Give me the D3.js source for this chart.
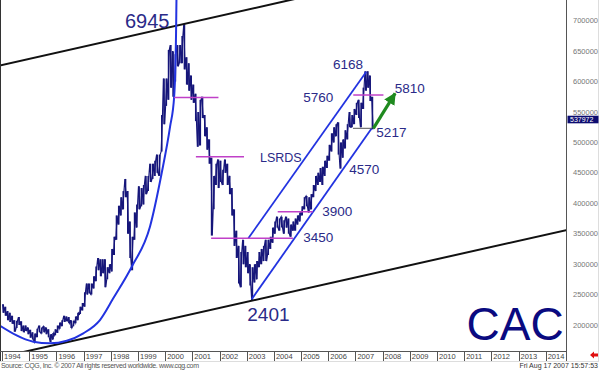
<!DOCTYPE html>
<html>
<head>
<meta charset="utf-8">
<script src="https://cdn.jsdelivr.net/npm/d3@7"></script>
<style>
  body { margin: 0; background: #fff; }
  svg { display: block; font-family: "Liberation Sans", Arial, sans-serif; }
</style>
</head>
<body>
<svg id="chart" width="600" height="370"></svg>
<script>
// monthly high / low of the CAC index, Jan 1994 .. Aug 2007 (index points)
const startYear = 1994;
const highs = [
  2340,2300,2230,2200,2150,2080,2070,2130,2060,1990,1990,1960,
  1920,1880,1860,1940,1990,1960,1980,1960,1930,1850,1870,1930,
  1990,2040,2080,2150,2140,2130,2080,2070,2140,2200,2300,2360,
  2540,2680,2680,2680,2800,2960,3100,3080,3080,3080,2950,3000,
  3250,3450,3800,3960,4100,4200,4400,4200,3700,3450,3850,3980,
  4280,4250,4300,4450,4450,4650,4650,4700,4800,4800,5450,6050,
  6050,6520,6600,6500,6450,6600,6600,6750,6945,6400,6300,6100,
  5950,5800,5500,5700,5750,5450,5250,5050,4750,4450,4650,4720,
  4700,4550,4720,4650,4450,4250,3900,3550,3300,3200,3400,3300,
  3200,3000,2950,3000,3050,3200,3250,3300,3400,3400,3450,3600,
  3700,3780,3750,3780,3720,3780,3750,3650,3700,3750,3800,3850,
  3950,4100,4120,4100,4150,4300,4450,4500,4580,4600,4700,4780,
  4960,5150,5250,5300,5330,5000,5050,5200,5300,5500,5450,5550,
  5650,5700,5650,5900,6168,6168,6100,5750
];
const lows = [
  2200,2150,2080,2050,2020,1890,1950,2000,1900,1880,1900,1850,
  1790,1760,1720,1800,1880,1860,1880,1850,1800,1720,1760,1830,
  1870,1940,1980,2050,2060,2030,1950,1980,2030,2080,2180,2240,
  2300,2500,2520,2500,2600,2720,2900,2800,2850,2620,2750,2850,
  2880,3150,3400,3650,3800,3900,4100,3500,3100,2900,3400,3600,
  3900,3950,3980,4150,4200,4350,4400,4450,4500,4450,4850,5300,
  5600,5700,5900,5750,6000,6250,6300,6300,6200,5950,5850,5700,
  5650,5350,4930,4950,5400,5100,4880,4650,3470,3900,4300,4250,
  4350,4300,4500,4300,4150,3800,3300,3100,2680,2620,3000,2950,
  2850,2650,2401,2700,2750,2950,3000,3050,3050,3150,3250,3350,
  3500,3600,3550,3600,3500,3600,3500,3450,3550,3550,3650,3700,
  3800,3900,3950,3850,3900,4100,4200,4300,4350,4300,4450,4580,
  4700,4850,5000,5100,4800,4570,4750,4900,5050,5250,5250,5300,
  5450,5400,5250,5550,5850,5900,5680,5217
];
const lastValue = 5379.72;

const yearTicks = d3.range(1994, 2015);
const valueTicks = [2000, 2500, 3000, 3500, 4000, 4500, 5000, 5500, 6000, 6500, 7000];

// hand drawn studies, [decimal year, index]
const bowlCurve = [[1993.92,1989],[1995.15,1726],[1995.76,1700],[1996.38,1742],[1996.99,1864],
  [1997.6,2082],[1998.09,2439],[1998.77,2958],[1999.44,3615],[1999.87,4493],[2000.18,5258],
  [2000.33,5751],[2000.40,6793],[2000.415,7340],[2000.42,7500]];
const blackUpper = [[1993.9,6262],[2005.0,7380]];
const blackLower = [[1994.5,1528],[2015.0,3583]];
const blueLower = [[2003.18,2422],[2007.6,5232]];
const blueUpper = [[2003.06,3425],[2007.40,6162]];
const levels = [
  {from: 2000.33, to: 2001.96, value: 5740},
  {from: 2001.13, to: 2002.90, value: 4765},
  {from: 2001.69, to: 2004.70, value: 3425},
  {from: 2004.14, to: 2005.43, value: 3862},
  {from: 2006.92, to: 2008.03, value: 5779}
];
const support = {from: 2006.91, to: 2007.61, value: 5232};
const target = [[2007.66,5232],[2008.46,5807]];
const notes = [
  {text: "6945", year: 1998.52, value: 6880, size: 20},
  {text: "6168", year: 2006.17, value: 6206, size: 13.5},
  {text: "5760", year: 2005.08, value: 5664, size: 13.5},
  {text: "5810", year: 2008.45, value: 5804, size: 13.5},
  {text: "5217", year: 2007.77, value: 5081, size: 13.5},
  {text: "4570", year: 2006.77, value: 4489, size: 13.5},
  {text: "LSRDS", year: 2003.49, value: 4678, size: 12.5},
  {text: "3900", year: 2005.78, value: 3791, size: 13.5},
  {text: "3450", year: 2005.08, value: 3356, size: 13.5},
  {text: "2401", year: 2003.02, value: 2066, size: 19},
  {text: "CAC", year: 2011.09, value: 1754, size: 46}
];

const plotRight = 566.5, plotBottom = 351.5;

const svg = d3.select("#chart");
const x = d3.scaleLinear().domain([1994, 2014]).range([2.1, 545.7]);
const y = d3.scaleLinear().domain([2000, 7000]).range([325, 20.7]);

const defs = svg.append("defs");
defs.append("clipPath").attr("id", "plotclip")
  .append("rect").attr("x", 1).attr("y", 0).attr("width", plotRight - 1).attr("height", plotBottom);

const marker = defs.append("marker")
  .attr("id", "head").attr("markerUnits", "userSpaceOnUse")
  .attr("viewBox", "0 0 12 12").attr("refX", 11).attr("refY", 6)
  .attr("markerWidth", 12).attr("markerHeight", 12).attr("orient", "auto");
marker.append("path").attr("d", "M0,0 L12,6 L0,12 Z").attr("fill", "#1f8a1f");

const plot = svg.append("g").attr("clip-path", "url(#plotclip)");

const mid = i => startYear + (i + 0.5) / 12;

// price bars: monthly range, plus a thin trace low->high or high->low
plot.append("g").selectAll("line").data(highs).join("line")
  .attr("x1", (d, i) => x(mid(i))).attr("x2", (d, i) => x(mid(i)))
  .attr("y1", (d, i) => y(lows[i])).attr("y2", d => y(d))
  .attr("stroke", "#16167a").attr("stroke-width", 1.6);

const trace = [];
highs.forEach((h, i) => {
  const up = i + 1 < highs.length ? highs[i + 1] > h : false;
  const a = up ? lows[i] : h, b = up ? h : lows[i];
  trace.push([mid(i) - 1 / 40, a], [mid(i) + 1 / 40, b]);
});
const line = d3.line().x(d => x(d[0])).y(d => y(d[1]));
plot.append("path").attr("d", line(trace))
  .attr("fill", "none").attr("stroke", "#16167a").attr("stroke-width", 1.1);

// black long term channel
[blackUpper, blackLower].forEach(pts => {
  plot.append("path").attr("d", line(pts))
    .attr("fill", "none").attr("stroke", "#111").attr("stroke-width", 2);
});

// blue bowl and blue channel
plot.append("path").attr("d", d3.line().x(d => x(d[0])).y(d => y(d[1])).curve(d3.curveMonotoneX)(bowlCurve))
  .attr("fill", "none").attr("stroke", "#2233e0").attr("stroke-width", 2);
[blueLower, blueUpper].forEach(pts => {
  plot.append("path").attr("d", line(pts))
    .attr("fill", "none").attr("stroke", "#2233e0").attr("stroke-width", 1.8);
});

// magenta levels
plot.append("g").selectAll("line").data(levels).join("line")
  .attr("x1", d => x(d.from)).attr("x2", d => x(d.to))
  .attr("y1", d => y(d.value)).attr("y2", d => y(d.value))
  .attr("stroke", "#c040c8").attr("stroke-width", 1.5);

plot.append("line")
  .attr("x1", x(support.from)).attr("x2", x(support.to))
  .attr("y1", y(support.value)).attr("y2", y(support.value))
  .attr("stroke", "#555").attr("stroke-width", 1);

// green arrow
plot.append("path").attr("d", line(target))
  .attr("stroke", "#1f8a1f").attr("stroke-width", 3.2).attr("fill", "none")
  .attr("marker-end", "url(#head)");

// labels
plot.append("g").selectAll("text").data(notes).join("text")
  .attr("x", d => x(d.year)).attr("y", d => y(d.value))
  .attr("font-size", d => d.size)
  .attr("fill", d => d.text === "CAC" ? "#0a0a80" : "#2a2a88")
  .text(d => d.text);

// frame
svg.append("line").attr("x1", 0.5).attr("x2", 0.5).attr("y1", 0).attr("y2", 361)
  .attr("stroke", "#333");
svg.append("line").attr("x1", plotRight).attr("x2", plotRight).attr("y1", 0).attr("y2", 361)
  .attr("stroke", "#555");
svg.append("line").attr("x1", 0).attr("x2", plotRight).attr("y1", plotBottom).attr("y2", plotBottom)
  .attr("stroke", "#555");
svg.append("line").attr("x1", 0).attr("x2", 599).attr("y1", 361.5).attr("y2", 361.5)
  .attr("stroke", "#ddd");
svg.append("line").attr("x1", 598.5).attr("x2", 598.5).attr("y1", 0).attr("y2", 361)
  .attr("stroke", "#ddd");

// x axis
const xa = svg.append("g");
xa.selectAll("line").data(yearTicks).join("line")
  .attr("x1", d => Math.round(x(d)) + 0.5).attr("x2", d => Math.round(x(d)) + 0.5)
  .attr("y1", plotBottom).attr("y2", 361)
  .attr("stroke", "#555");
xa.selectAll("text").data(yearTicks).join("text")
  .attr("x", d => x(d) + 2).attr("y", 359)
  .attr("font-size", 7.5).attr("fill", "#444")
  .text(d => d);

// y axis
svg.append("g").selectAll("text").data(valueTicks).join("text")
  .attr("x", 573).attr("y", d => y(d)).attr("dy", "0.35em")
  .attr("font-size", 7.5).attr("fill", "#777")
  .text(d => d3.format("d")(d * 100));

const lastY = y(lastValue);
svg.append("rect").attr("x", 567.5).attr("y", lastY - 3.6).attr("width", 31).attr("height", 7.6)
  .attr("fill", "#0c0c70");
svg.append("text").attr("x", 570).attr("y", lastY + 0.3).attr("dy", "0.35em")
  .attr("font-size", 7).attr("fill", "#fff")
  .text(d3.format("d")(Math.round(lastValue * 100)));

// red scroll arrow
svg.append("path").attr("d", "M590,355 L594,351.5 L594,353.5 L598,353.5 L598,356.5 L594,356.5 L594,358.5 Z")
  .attr("fill", "#e01010");

// footer
svg.append("text").attr("x", 1).attr("y", 368)
  .attr("font-size", 7).attr("fill", "#555").attr("textLength", 198)
  .text("Source: CQG, Inc. \u00a9 2007 All rights reserved worldwide. www.cqg.com");
svg.append("text").attr("x", 598).attr("y", 368).attr("text-anchor", "end")
  .attr("font-size", 7).attr("fill", "#333")
  .text("Fri Aug 17 2007 15:57:53");
</script>
</body>
</html>
